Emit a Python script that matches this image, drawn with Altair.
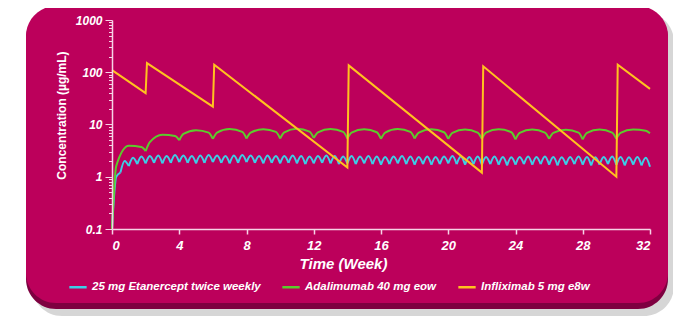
import altair as alt
import pandas as pd

SERIES = ["25 mg Etanercept twice weekly", "Adalimumab 40 mg eow", "Infliximab 5 mg e8w"]
LINE_COLORS = ["#3ccfe8", "#5ccb2c", "#ffc21f"]

# Etanercept 25 mg twice weekly: value just before each dose and mid-interval peak
etn_dose_weeks = [i * 0.5 for i in range(65)]
etn_troughs = [0.1, 1.2, 1.6, 1.75, 1.8, 1.85, 1.8, 1.85, 1.9, 1.85,
               1.8, 1.85, 1.9, 1.85, 1.8, 1.85, 1.9, 1.85, 1.8, 1.85,
               1.8, 1.85, 1.8, 1.75, 1.8, 1.85, 1.8, 1.75, 1.8, 1.75,
               1.8, 1.75, 1.7, 1.75, 1.8, 1.75, 1.7, 1.75, 1.7, 1.75,
               1.8, 1.75, 1.7, 1.75, 1.7, 1.75, 1.7, 1.65, 1.7, 1.75,
               1.7, 1.75, 1.7, 1.65, 1.7, 1.75, 1.7, 1.65, 1.7, 1.75,
               1.7, 1.65, 1.7, 1.65, 1.55]
etn_peaks = [1.0, 2.0, 2.3, 2.45, 2.5, 2.55, 2.5, 2.6, 2.55, 2.5,
             2.55, 2.6, 2.55, 2.5, 2.55, 2.6, 2.55, 2.5, 2.55, 2.5,
             2.5, 2.55, 2.5, 2.45, 2.5, 2.55, 2.5, 2.45, 2.5, 2.45,
             2.5, 2.45, 2.4, 2.45, 2.5, 2.45, 2.4, 2.45, 2.4, 2.45,
             2.5, 2.45, 2.4, 2.45, 2.4, 2.45, 2.4, 2.35, 2.4, 2.45,
             2.4, 2.45, 2.4, 2.35, 2.4, 2.45, 2.4, 2.35, 2.4, 2.45,
             2.4, 2.35, 2.4, 2.3]

# Adalimumab 40 mg every other week: per dosing cycle
ada_cycle_starts = [0, 2, 4, 6, 8, 10, 12, 14, 16, 18, 20, 22, 24, 26, 28, 30]
ada_offsets = [0, 0.25, 1.0, 1.75, 2.0]
ada_values = [
    [0.1, 1.6, 3.9, 3.7, 3.1],
    [3.1, 4.6, 6.4, 6.0, 5.0],
    [5.0, 6.6, 7.8, 7.0, 5.3],
    [5.3, 7.0, 8.2, 7.2, 5.4],
    [5.4, 7.0, 8.1, 7.2, 5.4],
    [5.4, 7.1, 8.3, 7.3, 5.5],
    [5.5, 7.1, 8.2, 7.2, 5.4],
    [5.4, 7.0, 8.1, 7.1, 5.3],
    [5.3, 7.0, 8.2, 7.2, 5.4],
    [5.4, 7.0, 8.1, 7.1, 5.3],
    [5.3, 6.9, 8.0, 7.0, 5.3],
    [5.3, 7.0, 8.1, 7.1, 5.2],
    [5.2, 6.9, 8.0, 7.0, 5.3],
    [5.3, 6.9, 7.9, 7.0, 5.2],
    [5.2, 6.9, 8.0, 7.0, 5.3],
    [5.3, 6.9, 8.0, 7.6, 6.8],
]

# Infliximab 5 mg/kg at weeks 0, 2, 6 then every 8 weeks
ifx_weeks = [0, 2, 2.08, 6, 6.08, 14, 14.08, 22, 22.08, 30, 30.08, 32]
ifx_values = [110, 40, 150, 22, 140, 1.5, 135, 1.2, 130, 1.0, 140, 48]

x_ticks = [0, 4, 8, 12, 16, 20, 24, 28, 32]
y_ticks = [m * 10 ** e for e in range(-1, 3) for m in range(1, 10)] + [1000]

# ---- tables ----
smooth_rows = []
for i in range(len(etn_peaks)):
    t0, t1 = etn_dose_weeks[i], etn_dose_weeks[i + 1]
    seg = f"e{i}"
    smooth_rows += [
        dict(series=SERIES[0], seg=seg, idx=0, week=t0, value=etn_troughs[i]),
        dict(series=SERIES[0], seg=seg, idx=1, week=(t0 + t1) / 2, value=etn_peaks[i]),
        dict(series=SERIES[0], seg=seg, idx=2, week=t1, value=etn_troughs[i + 1]),
    ]
for c, start in enumerate(ada_cycle_starts):
    for k, off in enumerate(ada_offsets):
        smooth_rows.append(dict(series=SERIES[1], seg=f"a{c}", idx=k,
                                week=start + off, value=ada_values[c][k]))
smooth_df = pd.DataFrame(smooth_rows)

ifx_df = pd.DataFrame({"series": SERIES[2], "idx": list(range(len(ifx_weeks))),
                       "week": ifx_weeks, "value": ifx_values})

FONT = "Liberation Sans"
AXIS_COL = "#f6d3e6"

x_enc = alt.X("week:Q", scale=alt.Scale(domain=[0, 32], nice=False),
              axis=alt.Axis(values=x_ticks, title="Time (Week)", grid=False, zindex=1,
                            domainColor=AXIS_COL, domainWidth=1.5, tickColor=AXIS_COL,
                            tickWidth=1.5, tickSize=5, labelColor="white", labelFont=FONT,
                            labelFontSize=13, labelFontWeight="bold", labelFontStyle="italic",
                            labelPadding=5, titleColor="white", titleFont=FONT,
                            titleFontSize=15, titleFontWeight="bold", titleFontStyle="italic",
                            titlePadding=4, titleX=231))

major_test = "abs(log(datum.value)/LN10 - round(log(datum.value)/LN10)) < 0.001"
y_enc = alt.Y("value:Q", scale=alt.Scale(type="log", domain=[0.1, 1000], nice=False),
              axis=alt.Axis(values=y_ticks, title="Concentration (µg/mL)", grid=False, zindex=1,
                            labelExpr=f"{major_test} ? format(datum.value, '~g') : ''",
                            labelOverlap=False,
                            tickSize={"condition": {"test": major_test, "value": 7}, "value": 3.5},
                            domainColor=AXIS_COL, domainWidth=1.5, tickColor=AXIS_COL,
                            tickWidth=1, labelColor="white", labelFont=FONT, labelFontSize=12,
                            labelFontWeight="bold", labelFontStyle="italic", labelPadding=3,
                            titleColor="white", titleFont=FONT, titleFontSize=12,
                            titleFontWeight="bold", titleX=-44, titleY=95))

color_enc = alt.Color("series:N", scale=alt.Scale(domain=SERIES, range=LINE_COLORS),
                      legend=alt.Legend(title=None, orient="none", legendX=-44, legendY=257,
                                        direction="horizontal", symbolType="stroke",
                                        symbolSize=300, symbolStrokeWidth=2.5,
                                        labelColor="white", labelFont=FONT, labelFontSize=11.5,
                                        labelFontWeight="bold", labelFontStyle="italic",
                                        labelLimit=400, columnPadding=16, symbolOffset=0))

deco = pd.DataFrame({"k": [1]})
shadow = alt.Chart(deco).mark_rect(color="#777777", opacity=0.3, cornerRadius=30).encode(
    x=alt.value(-80), x2=alt.value(562), y=alt.value(-8), y2=alt.value(296))
rim = alt.Chart(deco).mark_rect(color="#7e0040", cornerRadius=30).encode(
    x=alt.value(-86), x2=alt.value(556), y=alt.value(-12), y2=alt.value(289))
card = alt.Chart(deco).mark_rect(color="#bc005b", cornerRadius=30).encode(
    x=alt.value(-86), x2=alt.value(556), y=alt.value(-14), y2=alt.value(283))

smooth = alt.Chart(smooth_df).mark_line(interpolate="monotone", strokeWidth=2).encode(
    x=x_enc, y=y_enc, color=color_enc, detail="seg:N", order="idx:Q")
ifx = alt.Chart(ifx_df).mark_line(strokeWidth=2).encode(
    x=x_enc, y=y_enc, color=color_enc, order="idx:Q")

chart = alt.layer(shadow, rim, card, smooth, ifx).properties(
    width=538, height=209,
    padding={"left": 104, "top": 12, "right": 23, "bottom": 90},
    autosize=alt.AutoSizeParams(type="none"),
).configure_view(stroke=None)

chart.save("out.html", embed_options={"renderer": "svg", "actions": False})
